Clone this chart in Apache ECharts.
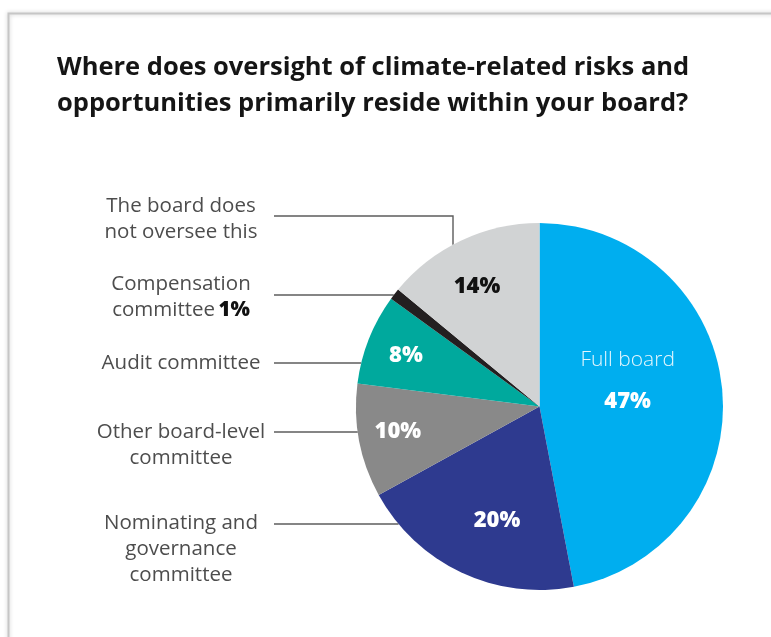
<!DOCTYPE html>
<html>
<head>
<meta charset="utf-8">
<title>Climate oversight</title>
<script src="https://cdn.jsdelivr.net/npm/echarts@6/dist/echarts.min.js"></script>
<style>
  html, body { margin: 0; padding: 0; background: #ffffff; }
  #chart { width: 771px; height: 637px; }
</style>
</head>
<body>
<div id="chart"></div>
<script>
// Survey answers, clockwise from 12 o'clock
const categories = [
  'Full board',
  'Nominating and governance committee',
  'Other board-level committee',
  'Audit committee',
  'Compensation committee',
  'The board does not oversee this'
];
const shares = [47, 20, 10, 8, 1, 14];
const sliceColors = ['#00AEEF', '#2E3A8F', '#898989', '#00A99D', '#231F20', '#D1D3D4'];

// Wrapped caption text for the callouts on the left
const calloutLines = [
  null,
  ['Nominating and', 'governance', 'committee'],
  ['Other board-level', 'committee'],
  ['Audit committee'],
  ['Compensation', 'committee'],
  ['The board does', 'not oversee this']
];

const TITLE = 'Where does oversight of climate-related risks and\nopportunities primarily reside within your board?';

// ---- geometry / layout ----
const CX = 539.5, CY = 406.5, R = 183.5;
const LABEL_FONT = "'Open Sans', 'Noto Sans', sans-serif";

// inside labels: radial fraction and angular nudge (deg) from the slice middle
const innerPlacement = [
  { r: 0.50, shift: -10.7 },
  { r: 0.665, shift: -4.8 },
  { r: 0.784, shift: 0.6 },
  { r: 0.778, shift: -0.9 },
  null,
  { r: 0.735, shift: -2.4 }
];
// callouts: caption centre, leader line height, optional elbow
const calloutX = 181, leaderStartX = 274;
const calloutPlacement = [
  null,
  { y: 549, lineY: 524 },
  { y: 445, lineY: 432 },
  { y: 363, lineY: 363 },
  { y: 297, lineY: 295 },
  { y: 219, lineY: 216, elbowX: 453 }
];

const total = shares.reduce((a, b) => a + b, 0);
const midAngles = [];
(function () {
  let acc = 0;
  shares.forEach(v => { midAngles.push((acc + v / 2) / total * 360); acc += v; });
})();

function edgeX(y) {
  const dy = y - CY;
  return CX - Math.sqrt(Math.max(0, R * R - dy * dy));
}
function edgeY(x) {
  const dx = x - CX;
  return CY - Math.sqrt(Math.max(0, R * R - dx * dx));
}

function innerText(i) {
  if (i === 0) return '{n|' + categories[0] + '}\n{p|' + shares[0] + '%}';
  return '{p|' + shares[i] + '%}';
}

const pctStyle = { fontFamily: LABEL_FONT, fontWeight: 800, fontSize: 22, lineHeight: 42, color: '#ffffff' };

const innerData = categories.map((name, i) => ({
  name,
  value: shares[i],
  itemStyle: { color: sliceColors[i] },
  label: {
    show: innerPlacement[i] !== null,
    formatter: innerText(i),
    rich: {
      n: { fontFamily: LABEL_FONT, fontSize: 21, fontWeight: 300, lineHeight: 42, color: '#E3F6FD' },
      p: Object.assign({}, pctStyle, { color: i === 5 ? '#111111' : '#ffffff' })
    }
  }
}));

const calloutData = categories.map((name, i) => {
  const lines = calloutLines[i];
  let text = '';
  if (lines) {
    text = lines.map((l, k) => '{t|' + l + '}' + (i === 4 && k === lines.length - 1 ? ' {b|' + shares[i] + '%}' : '')).join('\n');
  }
  return {
    name,
    value: shares[i],
    label: { show: !!lines, formatter: text },
    labelLine: { show: !!lines }
  };
});

const chart = echarts.init(document.getElementById('chart'), null, { renderer: 'canvas' });

chart.setOption({
  backgroundColor: '#ffffff',
  animation: false,
  title: {
    text: TITLE,
    left: 52,
    top: 45,
    textStyle: {
      fontFamily: "'Open Sans', 'Lato', sans-serif",
      fontWeight: 'bold',
      fontSize: 25.5,
      lineHeight: 36,
      color: '#151515'
    }
  },
  graphic: [{
    type: 'rect',
    silent: true,
    z: -10,
    shape: { x: 8.5, y: 13.5, width: 800, height: 680 },
    style: { fill: 'none', stroke: '#c6c6c6', lineWidth: 2, shadowBlur: 4, shadowColor: 'rgba(0,0,0,0.22)' }
  }],
  series: [
    {
      // coloured slices with their percentages inside
      type: 'pie',
      center: [CX, CY],
      radius: R,
      startAngle: 90,
      clockwise: true,
      avoidLabelOverlap: false,
      silent: true,
      emphasis: { disabled: true },
      label: { show: true, position: 'inside' },
      labelLine: { show: false },
      labelLayout: function (p) {
        const pl = innerPlacement[p.dataIndex];
        if (!pl) return {};
        const a = (midAngles[p.dataIndex] + pl.shift) * Math.PI / 180;
        return {
          x: CX + pl.r * R * Math.sin(a),
          y: CY - pl.r * R * Math.cos(a),
          align: 'center',
          verticalAlign: 'middle'
        };
      },
      data: innerData
    },
    {
      // transparent twin carrying the left-hand callouts and leader lines
      type: 'pie',
      center: [CX, CY],
      radius: R,
      startAngle: 90,
      clockwise: true,
      avoidLabelOverlap: false,
      silent: true,
      emphasis: { disabled: true },
      itemStyle: { color: 'rgba(0,0,0,0)' },
      label: {
        show: true,
        position: 'outside',
        align: 'center',
        rich: {
          t: { fontFamily: LABEL_FONT, fontSize: 20.5, lineHeight: 26, color: '#4d4d4d', align: 'center' },
          b: { fontFamily: LABEL_FONT, fontSize: 20.5, lineHeight: 26, fontWeight: 800, color: '#111111' }
        }
      },
      labelLine: {
        show: true,
        smooth: false,
        lineStyle: { color: '#5c5c5c', width: 1.4 }
      },
      labelLayout: function (p) {
        const c = calloutPlacement[p.dataIndex];
        if (!c) return {};
        let pts;
        if (c.elbowX != null) {
          pts = [[c.elbowX, edgeY(c.elbowX)], [c.elbowX, c.lineY], [leaderStartX, c.lineY]];
        } else {
          const ex = edgeX(c.lineY);
          pts = [[ex, c.lineY], [(ex + leaderStartX) / 2, c.lineY], [leaderStartX, c.lineY]];
        }
        return {
          x: calloutX,
          y: c.y,
          align: 'center',
          verticalAlign: 'middle',
          labelLinePoints: pts
        };
      },
      data: calloutData
    }
  ]
});
</script>
</body>
</html>
